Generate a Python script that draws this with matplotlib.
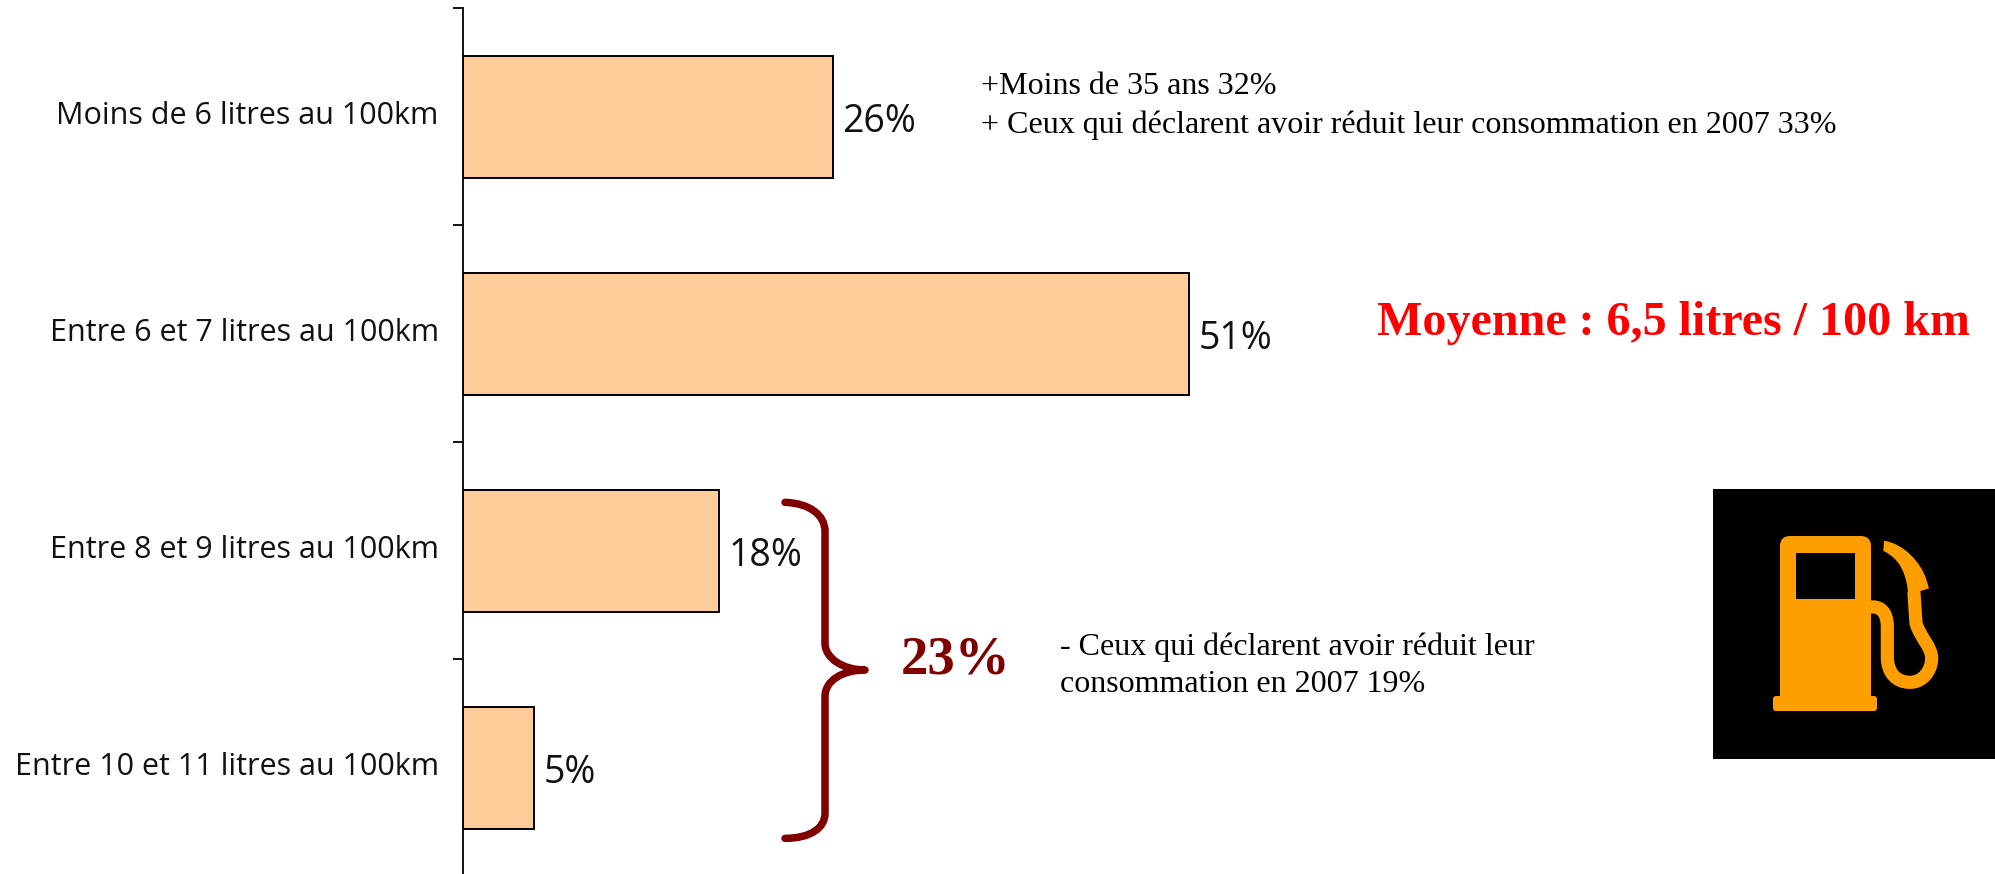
import matplotlib
matplotlib.use("Agg")
import matplotlib.pyplot as plt
from matplotlib.patches import Rectangle, FancyBboxPatch, PathPatch
from matplotlib.path import Path

categories = ["Moins de 6 litres au 100km", "Entre 6 et 7 litres au 100km",
              "Entre 8 et 9 litres au 100km", "Entre 10 et 11 litres au 100km"]
values = [26, 51, 18, 5]
value_labels = ["26%", "51%", "18%", "5%"]
note_top = ["+Moins de 35 ans 32%", "+ Ceux qui déclarent avoir réduit leur consommation en 2007 33%"]
note_bottom = ["- Ceux qui déclarent avoir réduit leur", "consommation en 2007 19%"]
headline = "Moyenne : 6,5 litres / 100 km"
group_total = "23%"

W, H = 1995, 874
LABEL_FONT = "Open Sans"
SERIF = "Liberation Serif"
DARK_RED = "#800000"
PUMP = "#FF9E00"

fig = plt.figure(figsize=(W / 100, H / 100), dpi=100, facecolor="white")

# Chart axes
ax_l, ax_t, ax_b = 463, 8.5, 876.5
ax = fig.add_axes([ax_l / W, 1 - ax_b / H, (W - ax_l) / W, (ax_b - ax_t) / H])
ax.patch.set_alpha(0)
ax.barh(range(len(values)), values, height=0.56, color="#FFCC99",
        edgecolor="black", linewidth=1.4, zorder=2)
ax.set_xlim(0, (W - ax_l) / 14.24)
ax.set_ylim(len(values) - 0.5, -0.5)
for s in ["top", "right", "bottom"]:
    ax.spines[s].set_visible(False)
ax.spines["left"].set_linewidth(1.3)
ax.xaxis.set_visible(False)
ax.set_yticks([i - 0.5 for i in range(len(values) + 1)])
ax.set_yticklabels([""] * (len(values) + 1))
ax.tick_params(axis="y", length=7, width=1.3, color="black")
for i, (c, v, vl) in enumerate(zip(categories, values, value_labels)):
    ax.annotate(c, (0, i), xytext=(-17.5, 1), textcoords="offset points",
                ha="right", va="center", fontsize=22, family=LABEL_FONT, color="#111111")
    ax.annotate(vl, (v, i), xytext=(6.5, -3.5), textcoords="offset points",
                ha="left", va="center", fontsize=27, family=LABEL_FONT, color="#111111")

# Overlay in pixel coordinates for the annotations
ov = fig.add_axes([0, 0, 1, 1])
ov.set_xlim(0, W)
ov.set_ylim(H, 0)
ov.axis("off")
ov.patch.set_alpha(0)

def serif(x, y, s, size=23, **kw):
    ov.text(x, y, s, family=SERIF, fontsize=size, va="center", ha=kw.pop("ha", "left"),
            color=kw.pop("color", "black"), **kw)

serif(981, 87, note_top[0])
serif(981, 125, note_top[1])
serif(1060, 647, note_bottom[0], size=23)
serif(1060, 684, note_bottom[1], size=23)
serif(1377, 323, headline, size=34.6, color="#FF0000", fontweight="bold")
serif(901, 660, group_total, size=39.5, color=DARK_RED, fontweight="bold")

# Brace
def z2(x, y):
    return (720 + x / 3, 470 + y / 3)

brace_pts = [(195, 97), (270, 100), (315, 135), (315, 185), (315, 520), (315, 565), (370, 600), (435, 600),
             (370, 600), (315, 630), (315, 680), (315, 1030), (315, 1075), (270, 1105), (195, 1105)]
brace_codes = [Path.MOVETO, Path.CURVE4, Path.CURVE4, Path.CURVE4, Path.LINETO, Path.CURVE4, Path.CURVE4, Path.CURVE4,
               Path.CURVE4, Path.CURVE4, Path.CURVE4, Path.LINETO, Path.CURVE4, Path.CURVE4, Path.CURVE4]
ov.add_patch(PathPatch(Path([z2(*p) for p in brace_pts], brace_codes), fill=False,
                       edgecolor=DARK_RED, linewidth=5.4, capstyle="round", joinstyle="round"))

# Fuel pump icon
def z1(x, y):
    return (1680 + x / 3, 470 + y / 3)

ov.add_patch(Rectangle((1713, 489), 282, 270, facecolor="black", edgecolor="none"))
ov.add_patch(FancyBboxPatch((1785, 541), 81, 159, boxstyle="round,pad=5,rounding_size=10",
                            facecolor=PUMP, edgecolor="none"))
ov.add_patch(FancyBboxPatch((1775, 698), 100, 11, boxstyle="round,pad=2,rounding_size=3",
                            facecolor=PUMP, edgecolor="none"))
ov.add_patch(Rectangle((1796, 553), 59, 46, facecolor="black", edgecolor="none"))
hose_pts = [(565, 412), (600, 405), (622, 425), (622, 470), (622, 560), (622, 610), (650, 637), (690, 637),
            (730, 637), (755, 600), (755, 565), (755, 530), (722, 505), (708, 460), (702, 370)]
hose_codes = [Path.MOVETO, Path.CURVE4, Path.CURVE4, Path.CURVE4, Path.LINETO, Path.CURVE4, Path.CURVE4, Path.CURVE4,
              Path.CURVE4, Path.CURVE4, Path.CURVE4, Path.CURVE4, Path.CURVE4, Path.CURVE4, Path.LINETO]
ov.add_patch(PathPatch(Path([z1(*p) for p in hose_pts], hose_codes), fill=False, edgecolor=PUMP,
                       linewidth=9.5, capstyle="round", joinstyle="round"))
nozzle = [(612, 212), (675, 222), (722, 280), (738, 325), (747, 355), (685, 375),
          (680, 320), (665, 268), (610, 243), (612, 212)]
ov.add_patch(PathPatch(Path([z1(*p) for p in nozzle],
                            [Path.MOVETO, Path.CURVE4, Path.CURVE4, Path.CURVE4, Path.LINETO, Path.LINETO,
                             Path.CURVE4, Path.CURVE4, Path.CURVE4, Path.CLOSEPOLY]),
                       facecolor=PUMP, edgecolor="none"))

fig.savefig("out.png", dpi=100)
